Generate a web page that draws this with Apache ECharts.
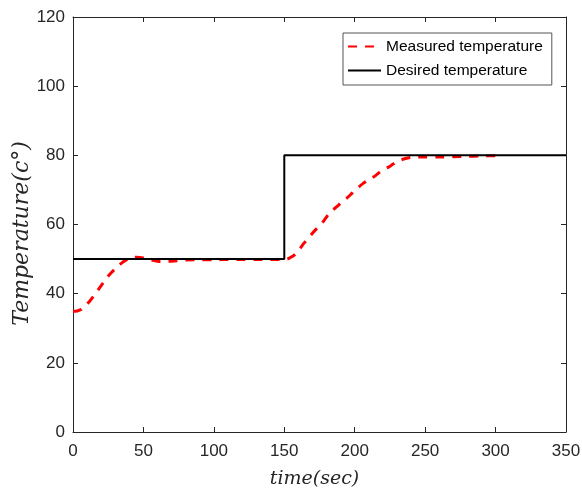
<!DOCTYPE html>
<html>
<head>
<meta charset="utf-8">
<script src="https://cdn.jsdelivr.net/npm/echarts@6/dist/echarts.min.js"></script>
<style>
html,body{margin:0;padding:0;background:#fff;}
#chart{width:582px;height:491px;}
</style>
</head>
<body>
<div id="chart"></div>
<script>
// Data
var measuredTime = [0,3,6,9,12,15,18,21,24,27,30,33,36,39,42,45,50,55,60,65,70,80,90,100,110,120,130,140,148,152,155,158,161,164,167,170,173,176,179,182,185,188,191,194,197,200,203,206,209,212,215,218,221,224,227,230,233,236,240,245,250,260,270,280,290,300];
var measuredTemp = [34.9,35.0,35.5,36.6,37.9,39.5,41.2,42.9,44.6,46.0,47.2,48.3,49.3,50.0,50.5,50.5,50.3,49.8,49.4,49.3,49.4,49.7,49.8,49.8,49.9,49.9,49.9,49.9,49.9,50.0,50.6,51.5,53.0,54.6,56.0,57.5,58.8,60.0,61.6,63.3,64.4,65.4,66.6,67.5,68.6,69.8,70.9,71.9,72.7,73.4,74.2,75.2,76.0,76.6,77.4,78.2,78.7,79.1,79.4,79.5,79.5,79.5,79.6,79.7,79.8,79.9];
var desiredTime = [0,150,150,350];
var desiredTemp = [50,50,80,80];
var seriesNames = ['Measured temperature','Desired temperature'];
var xTicks = {min:0,max:350,interval:50};
var yTicks = {min:0,max:120,interval:20};

function pairs(xs, ys){ return xs.map(function(x,i){return [x, ys[i]];}); }

var axisColor = '#262626';
var chart = echarts.init(document.getElementById('chart'), null, {renderer:'canvas'});
var baseAxisLine = {show:true, onZero:false, lineStyle:{color:axisColor,width:1}};
var tick = {show:true, inside:true, length:5, lineStyle:{color:axisColor,width:1}};
var labelFont = {fontFamily:'Liberation Sans, Arial, sans-serif', fontSize:17, color:axisColor};
var option = {
  animation:false,
  backgroundColor:'#fff',
  grid:{left:73, right:16, top:17, bottom:59, containLabel:false, outerBoundsMode:'none'},
  legend:{
    orient:'vertical', left:343, top:33,
    padding:[5,9,6,4], itemGap:7, itemWidth:33, itemHeight:14,
    borderColor:'#555', borderWidth:1, borderRadius:0, backgroundColor:'#fff',
    itemStyle:{opacity:0},
    textStyle:{fontFamily:'Liberation Sans, Arial, sans-serif', fontSize:15.5, color:'#000', lineHeight:17},
    data:seriesNames
  },
  xAxis:[
    {type:'value', position:'bottom', min:xTicks.min, max:xTicks.max, interval:xTicks.interval,
     axisLine:baseAxisLine, axisTick:tick, splitLine:{show:false},
     axisLabel:Object.assign({margin:11}, labelFont),
     name:'time(sec)', nameLocation:'middle', nameGap:38, nameMoveOverlap:false,
     nameTextStyle:{fontFamily:'DejaVu Serif, serif', fontStyle:'italic', fontSize:19, color:axisColor, padding:[0,10,0,0]}},
    {type:'value', position:'top', min:xTicks.min, max:xTicks.max, interval:xTicks.interval,
     axisLine:baseAxisLine, axisTick:tick, splitLine:{show:false}, axisLabel:{show:false}}
  ],
  yAxis:[
    {type:'value', position:'left', min:yTicks.min, max:yTicks.max, interval:yTicks.interval,
     axisLine:baseAxisLine, axisTick:tick, splitLine:{show:false},
     axisLabel:Object.assign({margin:8}, labelFont),
     name:'Temperature(c°)', nameLocation:'middle', nameGap:40, nameRotate:90, nameMoveOverlap:false,
     nameTextStyle:{fontFamily:'DejaVu Serif, serif', fontStyle:'italic', fontSize:22, color:axisColor, padding:[0,18,0,0]}},
    {type:'value', position:'right', min:yTicks.min, max:yTicks.max, interval:yTicks.interval,
     axisLine:baseAxisLine, axisTick:tick, splitLine:{show:false}, axisLabel:{show:false}}
  ],
  series:[
    {name:seriesNames[0], type:'line', xAxisIndex:0, yAxisIndex:0, data:pairs(measuredTime, measuredTemp),
     showSymbol:false, symbol:'none', smooth:0.3,
     lineStyle:{color:'#ff0000', width:3, type:[9,8], cap:'butt'},
     itemStyle:{color:'#ff0000'}, z:2},
    {name:seriesNames[1], type:'line', xAxisIndex:0, yAxisIndex:0, data:pairs(desiredTime, desiredTemp),
     showSymbol:false, symbol:'none',
     lineStyle:{color:'#000000', width:2}, itemStyle:{color:'#000000'}, z:3}
  ]
};
chart.setOption(option);
</script>
</body>
</html>
